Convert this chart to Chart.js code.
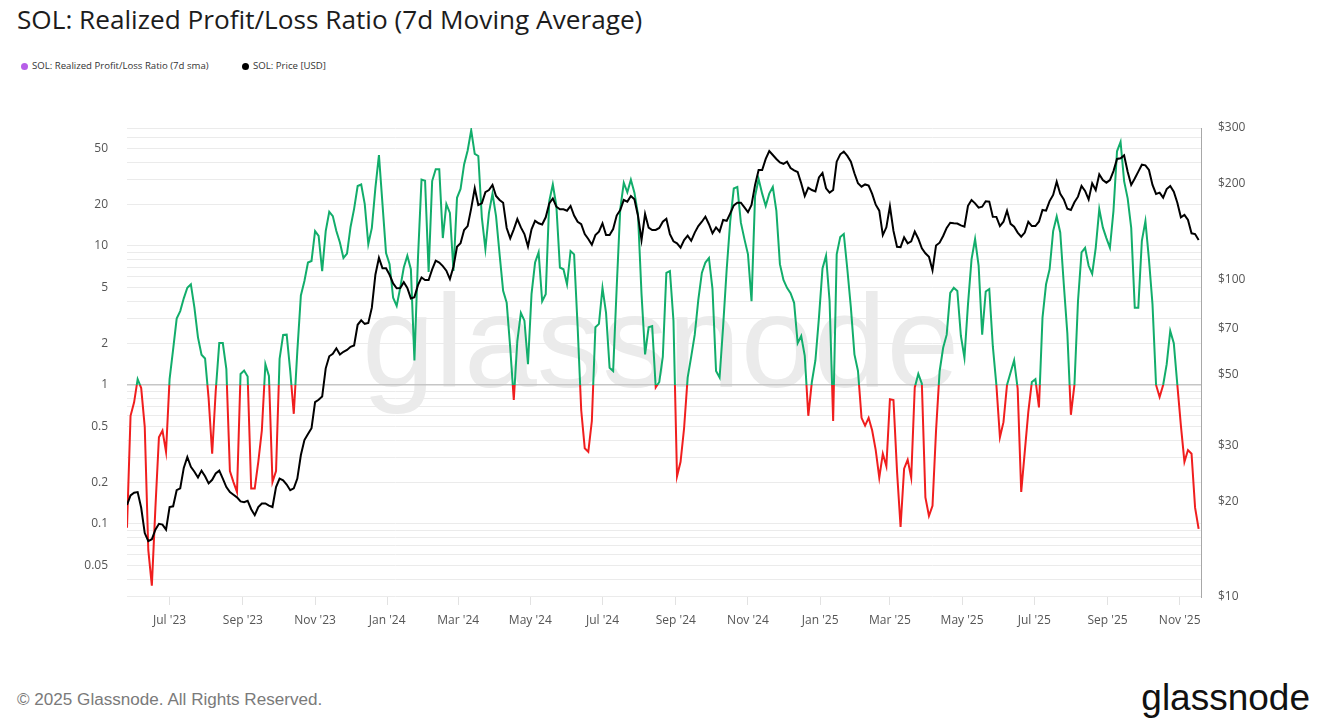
<!DOCTYPE html>
<html>
<head>
<meta charset="utf-8">
<title>SOL: Realized Profit/Loss Ratio (7d Moving Average)</title>
<script src="https://cdn.jsdelivr.net/npm/chart.js@4.4.1/dist/chart.umd.min.js"></script>
<style>
  body { margin: 0; width: 1320px; height: 728px; background: #fff; position: relative; overflow: hidden; font-family: "Open Sans", sans-serif; }
  #title { position: absolute; left: 17px; top: 1px; font-size: 26.2px; color: #1c1c1c; white-space: nowrap; }
  #legend { position: absolute; left: 21px; top: 59px; font-size: 9.6px; color: #333; white-space: nowrap; }
  #legend span.item { display: inline-block; margin-right: 31px; }
  #legend span.dot { display: inline-block; width: 7px; height: 7px; border-radius: 50%; margin-right: 4px; vertical-align: -1px; }
  #watermark { position: absolute; left: 362px; top: 276px; font-family: "Liberation Sans", Arial, sans-serif; font-size: 131px; line-height: 1; color: #ebebeb; }
  #wrap { position: absolute; left: 0; top: 100px; width: 1320px; height: 550px; }
  #footer { position: absolute; left: 17px; top: 691px; font-family: "Liberation Sans", Arial, sans-serif; font-size: 17.1px; line-height: 1; color: #7a7a7a; }
  #logo { position: absolute; right: 10px; top: 679px; font-family: "Liberation Sans", Arial, sans-serif; font-size: 37px; line-height: 1; color: #111; }
</style>
</head>
<body>
<div id="title">SOL: Realized Profit/Loss Ratio (7d Moving Average)</div>
<div id="legend">
  <span class="item"><span class="dot" style="background:#b65ee8"></span>SOL: Realized Profit/Loss Ratio (7d sma)</span>
  <span class="item"><span class="dot" style="background:#000"></span>SOL: Price [USD]</span>
</div>
<div id="watermark">glassnode</div>
<div id="wrap"><canvas id="chart"></canvas></div>
<div id="footer">© 2025 Glassnode. All Rights Reserved.</div>
<div id="logo">glassnode</div>

<script>
// one value every 3 days, starting on startDate
var startDate = '2023-05-26';
var stepDays = 3;

var ratioValues = [
  0.094, 0.6, 0.75, 1.1, 0.95, 0.5, 0.065, 0.036, 0.13, 0.42,
  0.47, 0.33, 1.1, 1.8, 3.0, 3.4, 4.2, 5.0, 5.3, 3.6,
  2.2, 1.65, 1.55, 0.8, 0.32, 0.9, 2.0, 2.0, 1.3, 0.24,
  0.2, 0.17, 1.2, 1.27, 1.15, 0.18, 0.18, 0.28, 0.47, 1.41,
  1.16, 0.2, 0.24, 1.54, 2.29, 2.3, 1.26, 0.62, 1.75, 4.4,
  5.6, 7.6, 7.8, 12.8, 11.8, 6.6, 12.8, 17.6, 16.4, 12.8,
  10.6, 8.2, 8.8, 13.7, 18.5, 27, 27.7, 20, 10.3, 13.5,
  26.2, 45, 20, 8.9, 7.4, 4.24, 3.7, 5.0, 7.0, 8.5,
  6.8, 1.5, 8.2, 30, 29.5, 6.5, 29.3, 35.6, 35.6, 11.4,
  20, 17.3, 6.6, 22.2, 25.7, 38.6, 48.6, 68, 46, 44.4,
  16, 9.5, 17.3, 23.8, 16.4, 8.7, 4.75, 3.9, 1.85, 0.78,
  2.07, 3.3, 2.9, 1.41, 4.5, 7.6, 9.0, 4.0, 4.5, 21,
  27.7, 19.4, 7.0, 6.8, 5.3, 9.2, 8.7, 2.6, 0.66, 0.35,
  0.33, 0.55, 2.6, 2.75, 5.0, 3.3, 1.33, 1.26, 5.0, 18.4,
  28.5, 24.3, 30, 24.2, 16.9, 4.5, 1.66, 2.6, 2.65, 0.96,
  1.05, 1.6, 6.4, 6.6, 2.9, 0.22, 0.28, 0.49, 1.13, 1.6,
  2.3, 4.1, 6.4, 7.6, 8.2, 4.9, 1.26, 1.13, 2.65, 6.8,
  15.1, 25.9, 26.6, 14.7, 11.2, 8.7, 4.0, 22.9, 30.3, 23.8,
  19.4, 23.8, 26.6, 17.9, 7.4, 5.7, 5.0, 4.57, 3.9, 2.0,
  2.25, 1.62, 0.6, 1.05, 1.5, 3.05, 6.9, 8.5, 4.0, 0.55,
  8.7, 11.6, 12.2, 6.8, 3.6, 1.66, 1.26, 0.58, 0.51, 0.58,
  0.47, 0.34, 0.215, 0.32, 0.26, 0.79, 0.78, 0.24, 0.095, 0.25,
  0.29, 0.215, 0.96, 1.2, 1.02, 0.155, 0.114, 0.135, 0.47, 1.25,
  1.85, 2.3, 4.6, 5.0, 4.75, 2.25, 1.57, 3.8, 8.0, 11.2,
  7.2, 2.3, 4.7, 4.9, 1.9, 1.0, 0.42, 0.54, 1.0, 1.23,
  1.5, 0.94, 0.17, 0.33, 0.64, 1.05, 1.1, 0.69, 3.05, 5.3,
  6.8, 12.8, 16.3, 12.5, 5.3, 2.35, 0.61, 1.0, 4.0, 9.0,
  9.7, 7.2, 6.3, 9.7, 18.4, 13.6, 11.4, 9.7, 17.9, 48,
  56, 29.3, 22, 13.5, 3.6, 3.6, 10.9, 15.1, 8.0, 3.8,
  1.0, 0.82, 1.0, 1.41, 2.45, 2.0, 1.0, 0.51, 0.28, 0.34,
  0.32, 0.131, 0.092
];

var priceValues = [
  19.5, 20.9, 21.3, 21.4, 19.1, 15.9, 15.0, 15.2, 16.3, 17.0,
  16.9, 16.3, 19.2, 19.3, 21.7, 22.0, 25.5, 27.6, 25.7, 24.8,
  23.8, 25.0, 24.0, 22.8, 23.4, 24.5, 25.0, 23.6, 22.2, 21.4,
  21.0, 20.6, 20.0, 19.9, 20.1, 18.9, 18.1, 19.2, 19.7, 19.7,
  19.4, 19.2, 22.2, 23.6, 23.3, 22.6, 21.7, 22.0, 23.6, 28.0,
  31.2, 32.6, 34.0, 41.1, 41.8, 42.8, 52.5, 57.3, 58.3, 60.7,
  58.0, 59.2, 60.0, 61.4, 62.0, 72.0, 74.4, 72.5, 73.0, 81.5,
  103.5, 117, 108.5, 108.5, 103.5, 97.2, 93.8, 94.0, 98.0, 94.0,
  87.2, 88.0, 96.0, 101.5, 99.6, 99.6, 107.6, 114.6, 113, 110.2,
  106.6, 100.3, 109.7, 126.8, 130, 143.2, 147.3, 167.5, 193.8, 171.6,
  173.7, 188.5, 191.3, 198.5, 183.2, 178, 174.5, 145.3, 134.8, 143.9,
  155, 145.9, 139, 127, 143.9, 153, 150.3, 149, 157, 173.7,
  180, 169.5, 166.3, 166.3, 164.7, 170.4, 159, 152, 149.3, 139,
  134.1, 128.6, 138, 141.5, 150.3, 138, 138, 144.2, 159, 165.5,
  178, 175.9, 183.2, 178.8, 158.8, 133.1, 160.8, 145.6, 143.2, 143.2,
  145.3, 152, 155.3, 139, 131.9, 130, 126, 133.1, 137.4, 132.4,
  140.5, 147.3, 152, 157.7, 149.3, 139.8, 145.9, 141.5, 153.9, 153,
  161.6, 171.2, 174.5, 174.6, 168.8, 163, 171.6, 198.5, 221.2, 221.2,
  239.7, 253.9, 246.6, 239.7, 233.8, 231.4, 235, 224.4, 220.6, 218,
  200.9, 183.2, 194.6, 191.3, 189.5, 209.7, 216.5, 193.8, 187.7, 191.3,
  235, 247.9, 252.6, 245, 235, 216, 200.9, 196, 199.2, 197.5,
  186, 172, 164.7, 138, 146, 170, 142.2, 126.8, 126.5, 135.8,
  130, 131.8, 141.5, 134.4, 125.3, 120.9, 118, 107, 128, 130.6,
  137.1, 145.3, 150.9, 150.3, 150, 148, 146.6, 170.7, 178, 173.7,
  168.3, 169.5, 176.3, 175.9, 157.7, 157.5, 147.3, 152, 164.7, 149.7,
  146.6, 140.5, 136.4, 140.5, 152, 147.3, 147.3, 152, 165.5, 164.7,
  176.6, 184.6, 203.3, 186, 178.8, 167, 165.5, 175, 182.3, 197,
  190, 178.8, 200.9, 191.3, 214.5, 205.7, 201.8, 205.7, 219.5, 239.7,
  241, 246, 218.6, 198.5, 208, 218.6, 229.9, 228.9, 221.2, 198.5,
  186, 187.7, 181, 192.7, 197, 189, 174.5, 157, 159.7, 153.9,
  139.8, 139, 133.1
];

var tickDates = ['2023-07-01', '2023-09-01', '2023-11-01', '2024-01-01', '2024-03-01',
  '2024-05-01', '2024-07-01', '2024-09-01', '2024-11-01', '2025-01-01', '2025-03-01',
  '2025-05-01', '2025-07-01', '2025-09-01', '2025-11-01'];
var tickLabels = ["Jul '23", "Sep '23", "Nov '23", "Jan '24", "Mar '24", "May '24", "Jul '24",
  "Sep '24", "Nov '24", "Jan '25", "Mar '25", "May '25", "Jul '25", "Sep '25", "Nov '25"];
var ratioTicks = [0.05, 0.1, 0.2, 0.5, 1, 2, 5, 10, 20, 50];
var priceTicks = [10, 20, 30, 50, 70, 100, 200, 300];

var green = '#12ad6b';
var red = '#f01e1e';

function dayNum(s) {
  var p = s.split('-');
  return Date.UTC(+p[0], +p[1] - 1, +p[2]) / 86400000;
}

var day0 = dayNum(startDate);
var ratioData = ratioValues.map(function(v, i) { return {x: day0 + i * stepDays, y: v}; });
var priceData = priceValues.map(function(v, i) { return {x: day0 + i * stepDays, y: v}; });

// minor log grid 0.03 .. 70
var gridValues = [];
for (var e = -2; e <= 1; e++) {
  for (var m = 1; m <= 9; m++) {
    var v = parseFloat((m * Math.pow(10, e)).toPrecision(3));
    if (v >= 0.03 && v <= 70) gridValues.push(v);
  }
}

function isRatioTick(v) {
  return ratioTicks.some(function(t) { return Math.abs(t - v) / t < 1e-6; });
}

function ratioColor(context) {
  var chart = context.chart;
  var area = chart.chartArea;
  if (!area || !chart.scales.y) return green;
  var y1 = chart.scales.y.getPixelForValue(1);
  var stop = (y1 - area.top) / (area.bottom - area.top);
  stop = Math.min(Math.max(stop, 0), 1);
  var g = chart.ctx.createLinearGradient(0, area.top, 0, area.bottom);
  g.addColorStop(0, green);
  g.addColorStop(stop, green);
  g.addColorStop(stop, red);
  g.addColorStop(1, red);
  return g;
}

Chart.defaults.font.family = "'Open Sans', sans-serif";
Chart.defaults.font.size = 12;
Chart.defaults.color = '#555';

var ctx = document.getElementById('chart').getContext('2d');
new Chart(ctx, {
  type: 'line',
  data: {
    datasets: [{
      label: 'SOL: Price [USD]',
      data: priceData,
      yAxisID: 'y2',
      borderColor: '#000',
      borderWidth: 2,
      pointRadius: 0,
      tension: 0,
      order: 0
    }, {
      label: 'SOL: Realized Profit/Loss Ratio (7d sma)',
      data: ratioData,
      yAxisID: 'y',
      borderColor: ratioColor,
      borderWidth: 2,
      pointRadius: 0,
      tension: 0,
      order: 1
    }]
  },
  options: {
    responsive: true,
    maintainAspectRatio: false,
    animation: false,
    layout: { padding: { top: 28, left: 0, right: 0, bottom: 0 } },
    plugins: {
      legend: { display: false },
      tooltip: { enabled: false }
    },
    scales: {
      x: {
        type: 'linear',
        min: day0,
        max: day0 + 908,
        afterBuildTicks: function(scale) {
          scale.ticks = tickDates.map(function(d) { return {value: dayNum(d)}; });
        },
        afterFit: function(scale) { scale.height = 53; },
        ticks: {
          autoSkip: false,
          maxRotation: 0,
          padding: 8,
          callback: function(value) {
            var i = tickDates.findIndex(function(d) { return dayNum(d) === value; });
            return i >= 0 ? tickLabels[i] : '';
          }
        },
        grid: { drawOnChartArea: false, drawTicks: true, tickLength: 8, color: '#e2e2e2' },
        border: { display: false }
      },
      y: {
        type: 'logarithmic',
        position: 'left',
        min: 0.0298,
        max: 70.6,
        bounds: 'data',
        afterBuildTicks: function(scale) {
          scale.ticks = gridValues.map(function(v) { return {value: v}; });
        },
        afterFit: function(scale) { scale.width = 127; },
        ticks: {
          autoSkip: false,
          padding: 19,
          callback: function(value) { return isRatioTick(value) ? String(value) : ''; }
        },
        grid: {
          drawTicks: false,
          color: function(c) { return c.tick && Math.abs(c.tick.value - 1) < 1e-9 ? '#c6c6c6' : '#ebebeb'; },
          lineWidth: function(c) { return c.tick && Math.abs(c.tick.value - 1) < 1e-9 ? 1.5 : 1; }
        },
        border: { display: false }
      },
      y2: {
        type: 'logarithmic',
        position: 'right',
        min: 10,
        max: 300,
        bounds: 'data',
        afterBuildTicks: function(scale) {
          scale.ticks = priceTicks.map(function(v) { return {value: v}; });
        },
        afterFit: function(scale) { scale.width = 119; },
        ticks: {
          autoSkip: false,
          padding: 17,
          callback: function(value) { return '$' + value; }
        },
        grid: { display: false, drawTicks: false },
        border: { display: true, color: '#a8a8a8', width: 1 }
      }
    }
  }
});
</script>
</body>
</html>
